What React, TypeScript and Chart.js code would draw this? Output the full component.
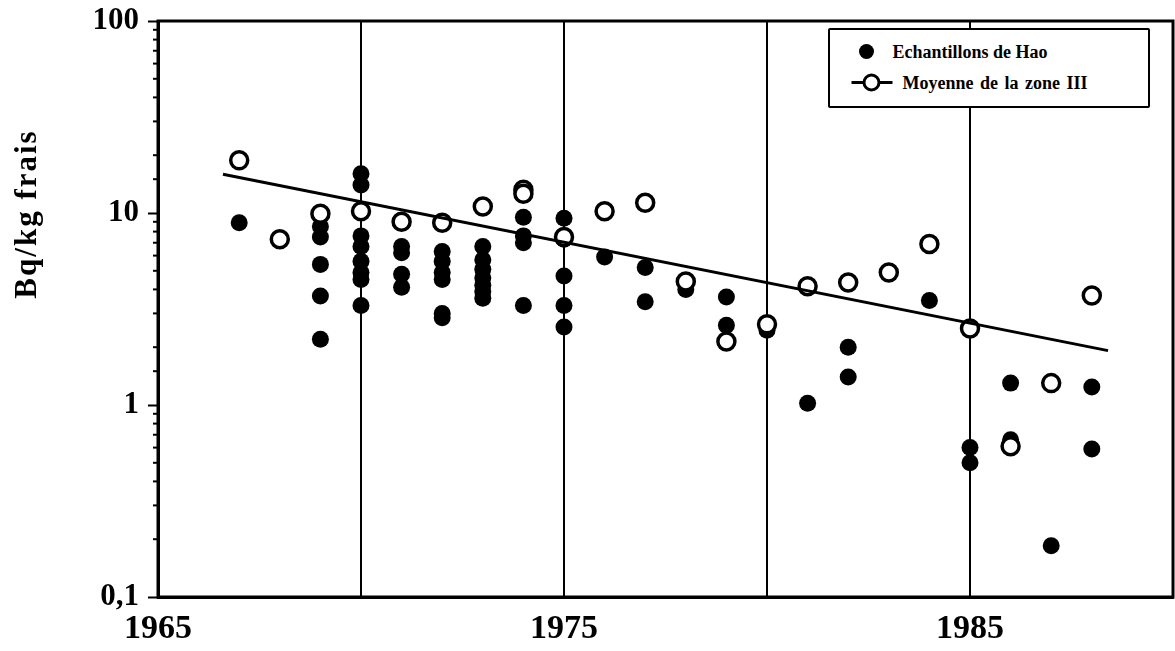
import React, { useEffect, useRef } from "react";
import { Chart, registerables } from "chart.js";

Chart.register(...registerables);

// Echantillons de Hao (filled dots)
const haoYears = [
  1967,
  1969, 1969, 1969, 1969, 1969,
  1970, 1970, 1970, 1970, 1970, 1970, 1970, 1970,
  1971, 1971, 1971, 1971,
  1972, 1972, 1972, 1972, 1972, 1972,
  1973, 1973, 1973, 1973, 1973, 1973, 1973,
  1974, 1974, 1974, 1974,
  1975, 1975, 1975, 1975, 1975,
  1976,
  1977, 1977,
  1978,
  1979, 1979,
  1980,
  1981,
  1982, 1982,
  1984,
  1985, 1985,
  1986, 1986,
  1987,
  1988, 1988,
];
const haoValues = [
  8.9,
  8.5, 7.5, 5.4, 3.7, 2.2,
  16, 14, 7.6, 6.7, 5.6, 4.9, 4.5, 3.3,
  6.7, 6.2, 4.8, 4.1,
  6.3, 5.6, 4.9, 4.5, 3.0, 2.85,
  6.7, 5.7, 5.1, 4.6, 4.2, 3.9, 3.6,
  9.5, 7.6, 7.0, 3.3,
  9.4, 7.3, 4.7, 3.3, 2.55,
  5.9,
  5.2, 3.45,
  4.0,
  3.65, 2.6,
  2.45,
  1.02,
  2.0, 1.4,
  3.5,
  0.6, 0.5,
  1.3, 0.66,
  0.185,
  1.24, 0.59,
];

// Moyenne de la zone III (open circles)
const zoneYears = [1967, 1968, 1969, 1970, 1971, 1972, 1973, 1974, 1974, 1975, 1976, 1977, 1978, 1979, 1980, 1981, 1982, 1983, 1984, 1985, 1986, 1987, 1988];
const zoneValues = [18.8, 7.3, 9.9, 10.2, 9.0, 8.9, 10.8, 13.2, 12.6, 7.5, 10.2, 11.3, 4.4, 2.14, 2.63, 4.15, 4.35, 4.9, 6.9, 2.5, 0.61, 1.3, 3.72];

// Trend line
const trendYears = [1966.6, 1988.4];
const trendValues = [15.9, 1.92];

const xLabelYears = [1965, 1975, 1985];
const yLabelValues = [0.1, 1, 10, 100];
const yLabelTexts = ["0,1", "1", "10", "100"];

const FONT = '"Liberation Serif", "Times New Roman", serif';

const isPow10 = (v: number) => {
  const l = Math.log10(v);
  return Math.abs(l - Math.round(l)) < 1e-6;
};

const framePlugin = {
  id: "framePlugin",
  afterDraw(chart: any) {
    const { ctx, chartArea } = chart;
    const ys = chart.scales.y;
    ctx.save();
    // minor ticks on y axis
    ctx.strokeStyle = "#000";
    ctx.lineWidth = 2;
    ys.ticks.forEach((t: any) => {
      if (!isPow10(t.value)) {
        const py = ys.getPixelForValue(t.value);
        ctx.beginPath();
        ctx.moveTo(chartArea.left - 5, py);
        ctx.lineTo(chartArea.left, py);
        ctx.stroke();
      }
    });
    // frame
    ctx.lineWidth = 3;
    ctx.strokeRect(chartArea.left, chartArea.top, chartArea.right - chartArea.left, chartArea.bottom - chartArea.top);
    // y title
    ctx.translate(28, 214);
    ctx.rotate(-Math.PI / 2);
    ctx.font = `bold 31px ${FONT}`;
    (ctx as any).letterSpacing = "2px";
    ctx.fillStyle = "#000";
    ctx.textAlign = "center";
    ctx.textBaseline = "middle";
    ctx.fillText("Bq/kg frais", 0, 0);
    ctx.restore();
  },
};

export default function App() {
  const ref = useRef<HTMLCanvasElement>(null);

  useEffect(() => {
    if (!ref.current) return;
    const haoData = haoYears.map((x, i) => ({ x, y: haoValues[i] }));
    const zoneData = zoneYears.map((x, i) => ({ x, y: zoneValues[i] }));
    const trendData = trendYears.map((x, i) => ({ x, y: trendValues[i] }));

    const chart = new Chart(ref.current, {
      type: "scatter",
      data: {
        datasets: [
          {
            label: "Tendance",
            data: trendData,
            showLine: true,
            pointRadius: 0,
            borderColor: "#000",
            borderWidth: 3,
            order: 0,
          } as any,
          {
            label: "Moyenne de la zone III",
            data: zoneData,
            pointRadius: 8.5,
            pointBackgroundColor: "#fff",
            pointBorderColor: "#000",
            pointBorderWidth: 3.5,
            backgroundColor: "#fff",
            borderColor: "#000",
            order: 1,
          },
          {
            label: "Echantillons de Hao",
            data: haoData,
            pointRadius: 8.5,
            pointBackgroundColor: "#000",
            pointBorderWidth: 0,
            backgroundColor: "#000",
            borderColor: "#000",
            order: 2,
          },
        ],
      },
      options: {
        animation: false,
        responsive: false,
        layout: { autoPadding: false, padding: { top: 21, right: 2, left: 0, bottom: 0 } },
        plugins: {
          legend: { display: false },
          tooltip: { enabled: false },
        },
        scales: {
          x: {
            type: "linear",
            min: 1965,
            max: 1990,
            afterFit: (s: any) => {
              s.height = 54;
              s.paddingLeft = 0;
              s.paddingRight = 0;
            },
            ticks: {
              stepSize: 5,
              autoSkip: false,
              maxRotation: 0,
              padding: 12,
              color: "#000",
              font: { family: FONT, weight: "bold", size: 34 },
              callback: (v: any) => (xLabelYears.includes(Number(v)) ? String(v) : ""),
            },
            grid: {
              color: "#000",
              lineWidth: 2,
              drawTicks: false,
            },
            border: { color: "#000", width: 3 },
          },
          y: {
            type: "logarithmic",
            min: 0.1,
            max: 100,
            afterFit: (s: any) => {
              s.width = 158;
              s.paddingTop = 0;
              s.paddingBottom = 0;
            },
            ticks: {
              autoSkip: false,
              padding: 9,
              color: "#000",
              font: { family: FONT, weight: "bold", size: 31 },
              callback: (v: any) => {
                const n = Number(v);
                const idx = yLabelValues.findIndex((t) => Math.abs(t - n) / t < 1e-6);
                return idx >= 0 ? yLabelTexts[idx] : "";
              },
            },
            grid: {
              drawOnChartArea: false,
              drawTicks: true,
              tickLength: 10,
              tickWidth: 2,
              tickColor: (ctx: any) => (ctx.tick && isPow10(ctx.tick.value) ? "#000" : "rgba(0,0,0,0)"),
            },
            border: { color: "#000", width: 3 },
          },
        },
      },
      plugins: [framePlugin],
    });
    return () => chart.destroy();
  }, []);

  const legendFont: React.CSSProperties = {
    position: "absolute",
    fontFamily: FONT,
    fontWeight: "bold",
    fontSize: 18,
    lineHeight: "20px",
    whiteSpace: "nowrap",
    color: "#000",
  };

  return (
    <div style={{ position: "fixed", left: 0, top: 0, width: 1175, height: 651, background: "#fff" }}>
      <canvas ref={ref} width={1175} height={651} style={{ display: "block" }} />
      <div
        style={{
          position: "absolute",
          left: 828,
          top: 28,
          width: 322,
          height: 80,
          border: "2.5px solid #000",
          borderRadius: 2,
          background: "#fff",
          boxSizing: "border-box",
        }}
      >
        <svg style={{ position: "absolute", left: 0, top: 0 }} width={317} height={75}>
          <circle cx={36.5} cy={21.5} r={7.5} fill="#000" />
          <line x1={21.5} y1={52.5} x2={62.5} y2={52.5} stroke="#000" strokeWidth={3} />
          <circle cx={41.5} cy={52.5} r={7.5} fill="#fff" stroke="#000" strokeWidth={3} />
        </svg>
        <div style={{ ...legendFont, left: 62.5, top: 11.5 }}>Echantillons de Hao</div>
        <div style={{ ...legendFont, left: 72.5, top: 42.5, wordSpacing: 2 }}>Moyenne de la zone III</div>
      </div>
    </div>
  );
}
